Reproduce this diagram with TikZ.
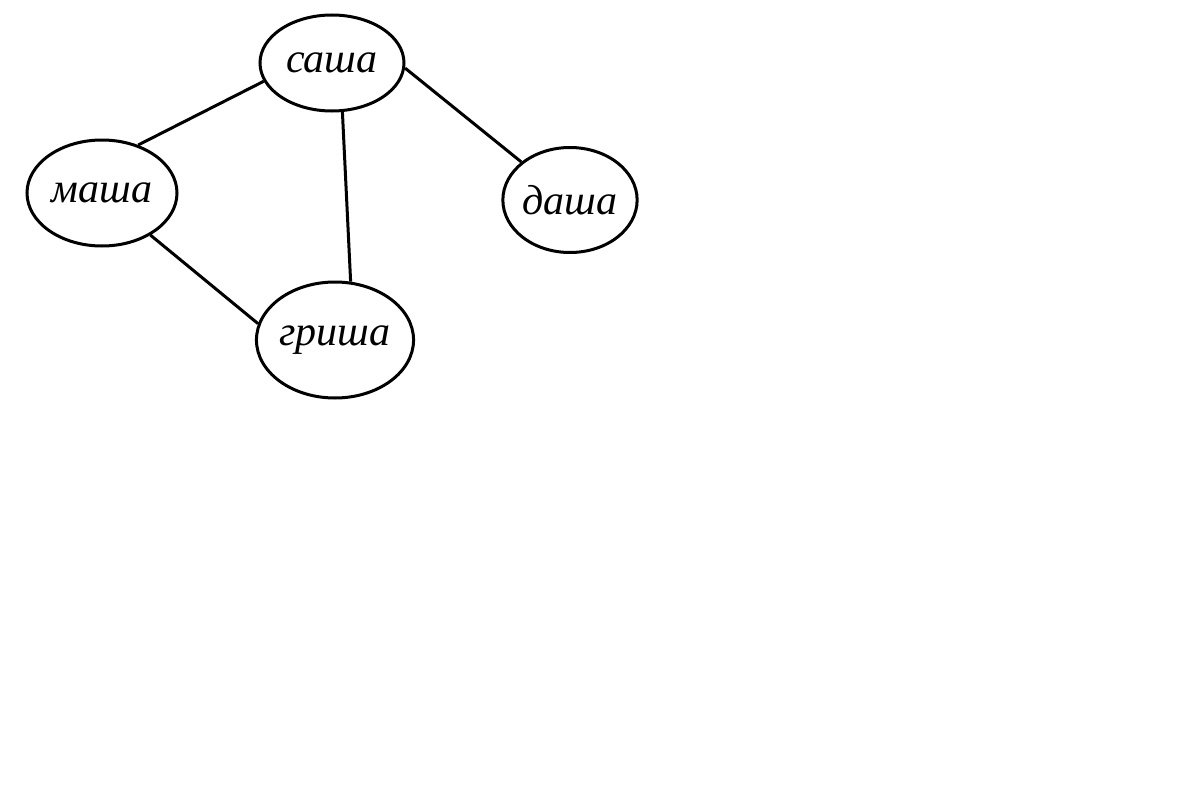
\documentclass[tikz,border=0pt]{standalone}
\usepackage{fontspec}
\setmainfont{Liberation Serif}
\usetikzlibrary{shapes.geometric}
\tikzset{
  person/.style={ellipse, draw, line width=3pt, inner sep=0pt,
    font=\itshape\fontsize{42}{48}\selectfont},
  link/.style={line width=3pt}
}
\begin{document}
\begin{tikzpicture}[x=1pt,y=-1pt]
\useasboundingbox (0,0) rectangle (1200,800);
\node[person, minimum width=144pt, minimum height=96pt] (sasha) at (332,63) {саша};
\node[person, minimum width=150pt, minimum height=106pt] (masha) at (102,193) {маша};
\node[person, minimum width=131pt, minimum height=105pt] (dasha) at (570,200) {даша};
\node[person, minimum width=150pt, minimum height=116pt] (grisha) at (335,340) {гриша};
\draw[link] (sasha.195) -- (masha.53);
\draw[link] (sasha.-78) -- (grisha.75);
\draw[link] (sasha.-4) -- (dasha.142);
\draw[link] (masha.-41) -- (grisha.168);
\end{tikzpicture}
\end{document}
